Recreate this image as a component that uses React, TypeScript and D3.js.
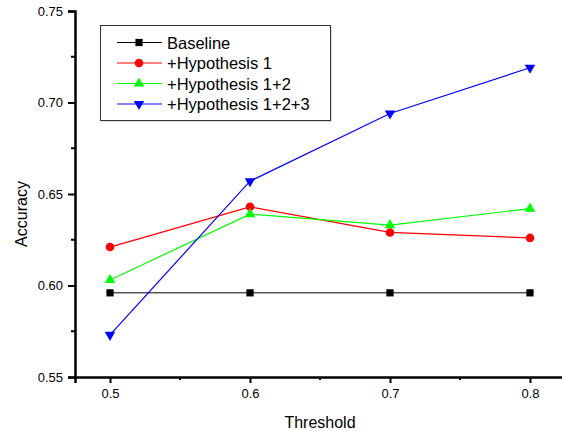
import { useRef, useEffect } from "react";
import * as d3 from "d3";

const thresholds = [0.5, 0.6, 0.7, 0.8];
const baseline = [0.596, 0.596, 0.596, 0.596];
const hyp1 = [0.621, 0.643, 0.629, 0.626];
const hyp12 = [0.603, 0.639, 0.633, 0.642];
const hyp123 = [0.573, 0.657, 0.694, 0.719];
const seriesNames = ["Baseline", "+Hypothesis 1", "+Hypothesis 1+2", "+Hypothesis 1+2+3"];
const yTicks = [0.55, 0.6, 0.65, 0.7, 0.75];
const yMinor = [0.575, 0.625, 0.675, 0.725];
const xMinor = [0.55, 0.65, 0.75];

const colors = ["#000000", "#ff0000", "#00ff00", "#0000ff"];
const symbols = [d3.symbolSquare, d3.symbolCircle, d3.symbolTriangle, d3.symbolTriangle];
const symSizes = [52, 58, 48, 48];
const rotations = [0, 0, 0, 180];

export default function App() {
  const svgRef = useRef<SVGSVGElement>(null);

  useEffect(() => {
    const svg = d3.select(svgRef.current);
    svg.selectAll("*").remove();
    const font = "Liberation Sans, Arial, sans-serif";

    const x = d3.scaleLinear().domain([0.475, 0.825]).range([75, 565]);
    const y = d3.scaleLinear().domain([0.55, 0.75]).range([377, 11]);

    // axes
    const xAxis = d3.axisBottom(x).tickValues(thresholds).tickFormat(d3.format(".1f")).tickSizeOuter(0).tickSize(6).tickPadding(6);
    const gx = svg.append("g").attr("transform", "translate(0,377)").call(xAxis);
    gx.append("g").selectAll("line").data(xMinor).join("line")
      .attr("x1", (d) => x(d)).attr("x2", (d) => x(d)).attr("y1", 0).attr("y2", 3)
      .attr("stroke", "#000").attr("stroke-width", 2);

    const yAxis = d3.axisLeft(y).tickValues(yTicks).tickFormat(d3.format(".2f")).tickSizeOuter(0).tickSize(7).tickPadding(5);
    const gy = svg.append("g").attr("transform", "translate(75,0)").call(yAxis);
    gy.append("g").selectAll("line").data(yMinor).join("line")
      .attr("y1", (d) => y(d)).attr("y2", (d) => y(d)).attr("x1", 0).attr("x2", -4)
      .attr("stroke", "#000").attr("stroke-width", 2);

    [gx, gy].forEach((g) => {
      g.select(".domain").attr("stroke-width", 2.5);
      g.selectAll(".tick line").attr("stroke-width", 2);
      g.selectAll(".tick text").attr("font-family", font).attr("font-size", 13).attr("fill", "#000");
    });

    svg.append("text").attr("x", 320).attr("y", 428).attr("text-anchor", "middle")
      .attr("font-family", font).attr("font-size", 16).text("Threshold");
    svg.append("text").attr("transform", "translate(27,214) rotate(-90)").attr("text-anchor", "middle")
      .attr("font-family", font).attr("font-size", 16).text("Accuracy");

    // series
    const all = [baseline, hyp1, hyp12, hyp123];
    const line = d3.line<number>().x((_, i) => x(thresholds[i])).y((d) => y(d));
    all.forEach((vals, s) => {
      svg.append("path").attr("d", line(vals)).attr("fill", "none")
        .attr("stroke", colors[s]).attr("stroke-width", s === 0 ? 1 : 1.2);
      svg.append("g").selectAll("path").data(vals).join("path")
        .attr("d", d3.symbol().type(symbols[s]).size(symSizes[s])())
        .attr("transform", (d, i) => `translate(${x(thresholds[i])},${y(d)}) rotate(${rotations[s]})`)
        .attr("fill", colors[s]);
    });

    // legend
    const lg = svg.append("g");
    lg.append("rect").attr("x", 101.5).attr("y", 26.5).attr("width", 230).attr("height", 95).attr("fill", "#bbb");
    lg.append("rect").attr("x", 100.5).attr("y", 25.5).attr("width", 230).attr("height", 95)
      .attr("fill", "#fff").attr("stroke", "#333").attr("stroke-width", 1);
    seriesNames.forEach((name, s) => {
      const ly = 42.5 + s * 20.5;
      lg.append("line").attr("x1", 117).attr("x2", 162).attr("y1", ly).attr("y2", ly)
        .attr("stroke", colors[s]).attr("stroke-width", 1);
      lg.append("path").attr("d", d3.symbol().type(symbols[s]).size(symSizes[s])())
        .attr("transform", `translate(139,${ly}) rotate(${rotations[s]})`).attr("fill", colors[s]);
      lg.append("text").attr("x", 167).attr("y", ly + 6).attr("font-family", font)
        .attr("font-size", 16.5).text(name);
    });
  }, []);

  return (
    <svg ref={svgRef} width={562} height={431} style={{ position: "absolute", left: 0, top: 0 }}></svg>
  );
}
